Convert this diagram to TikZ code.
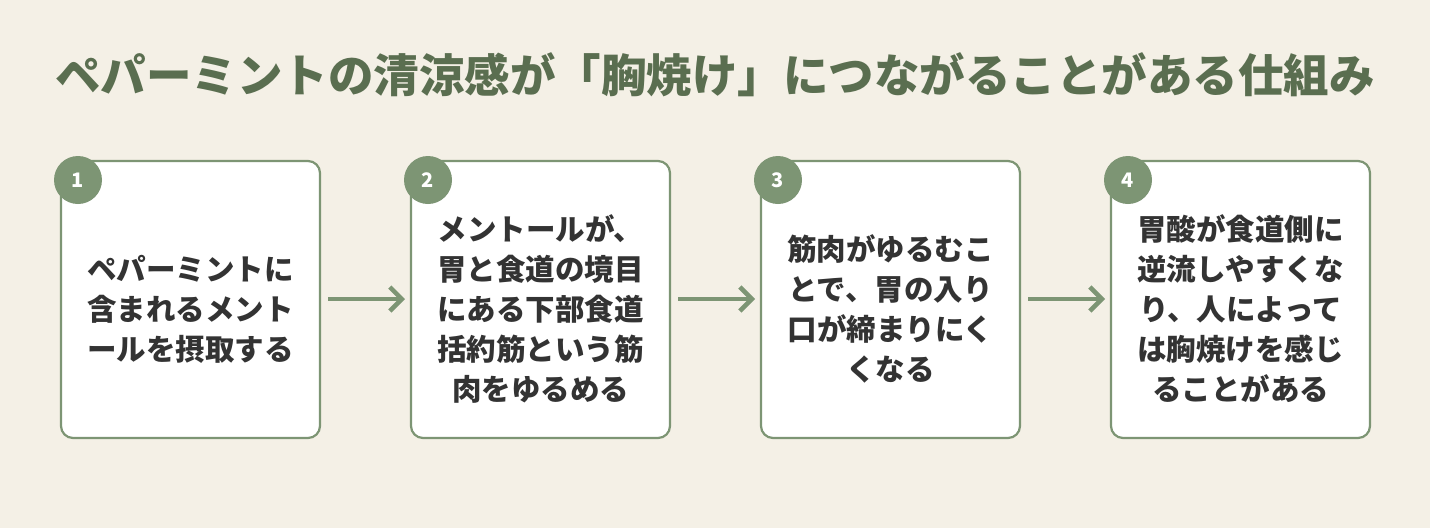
\documentclass[tikz,border=0pt]{standalone}
\usepackage{fontspec}
\setmainfont{Noto Sans CJK JP}
\definecolor{bg}{HTML}{F4F0E6}
\definecolor{ttl}{HTML}{5A6E50}
\definecolor{grn}{HTML}{7D9574}
\definecolor{txt}{HTML}{333333}
\usetikzlibrary{arrows.meta}
\begin{document}
\begin{tikzpicture}[x=1pt,y=-1pt,
 box/.style={draw=grn,line width=2.2pt,fill=white,rounded corners=12pt},
 num/.style={circle,fill=grn,minimum size=48pt,inner sep=0pt,text=white,font=\bfseries\fontsize{20}{24}\selectfont},
 body/.style={align=center,text=txt,font=\bfseries\fontsize{29.5}{40}\selectfont},
 arr/.style={draw=grn,line width=4.5pt,-{Straight Barb[length=12pt,width=24pt,line width=4.5pt]}}]
\fill[bg] (0,0) rectangle (1430,528);
\useasboundingbox (0,0) rectangle (1430,528);
\node[text=ttl,font=\bfseries\fontsize{45.5}{50}\selectfont] (title) at (715,75) {ペパーミントの清涼感が「胸焼け」につながることがある仕組み};
\foreach \i/\x in {1/61,2/411,3/761,4/1111}{
 \draw[box] (\x,161) rectangle (\x+259,438);
 \node[num] (n\i) at (\x+17,180) {\i};
 \coordinate (L\i) at (\x,299);
 \coordinate (R\i) at (\x+259,299);
}
\node[body] (t1) at (190.5,309) {ペパーミントに\\含まれるメント\\ールを摂取する};
\node[body] (t2) at (540.5,309) {メントールが、\\胃と食道の境目\\にある下部食道\\括約筋という筋\\肉をゆるめる};
\node[body] (t3) at (890.5,309) {筋肉がゆるむこ\\とで、胃の入り\\口が締まりにく\\くなる};
\node[body] (t4) at (1240.5,309) {胃酸が食道側に\\逆流しやすくな\\り、人によって\\は胸焼けを感じ\\ることがある};
\draw[arr] ([xshift=8pt]R1) -- ([xshift=-6pt]L2);
\draw[arr] ([xshift=8pt]R2) -- ([xshift=-6pt]L3);
\draw[arr] ([xshift=8pt]R3) -- ([xshift=-6pt]L4);
\end{tikzpicture}
\end{document}
